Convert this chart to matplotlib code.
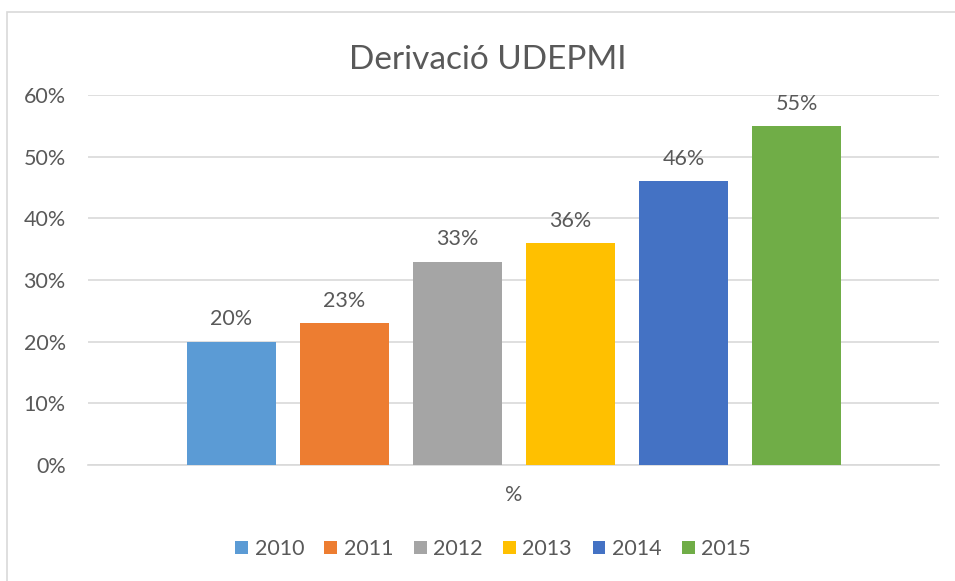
import matplotlib
matplotlib.use("Agg")
from matplotlib import pyplot as plt
from matplotlib.patches import Rectangle

# datos del grafico
anios = ["2010", "2011", "2012", "2013", "2014", "2015"]
valores = [0.20, 0.23, 0.33, 0.36, 0.46, 0.55]
colores = ["#5B9BD5", "#ED7D31", "#A5A5A5", "#FFC000", "#4472C4", "#70AD47"]
marcas_y = [0, 0.1, 0.2, 0.3, 0.4, 0.5, 0.6]

plt.rcParams['font.family'] = ['Lato', 'DejaVu Sans']
gris = "#595959"

fig = plt.figure(figsize=(9.55, 5.81), dpi=100)
ax = fig.add_axes([88/955, 1 - 465/581, (939-88)/955, (465-95)/581])

for i in range(len(anios)):
    ax.bar(i, valores[i], width=0.79, color=colores[i], label=anios[i], zorder=3)
    ax.text(i, valores[i] + 0.02, str(round(valores[i]*100)) + "%", ha="center", va="bottom",
            fontsize=15.5, color=gris)

ax.set_xlim(-1.27, 6.26)
ax.set_ylim(0, 0.6)
ax.set_yticks(marcas_y)
ax.set_yticklabels([str(round(v*100)) + "%" for v in marcas_y], fontsize=15.5, color=gris)
ax.set_xticks([])
ax.tick_params(axis="y", length=0, pad=16)
ax.grid(axis="y", color="#D9D9D9", linewidth=1.2, zorder=0)
for s in ["top", "right", "left"]:
    ax.spines[s].set_visible(False)
ax.spines["bottom"].set_color("#D9D9D9")
ax.spines["bottom"].set_linewidth(1.2)

fig.text(488/955, 1 - 60/581, "Derivació UDEPMI", ha="center", va="center", fontsize=24, color=gris)
fig.text(514/955, 1 - 495/581, "%", ha="center", va="center", fontsize=15.5, color=gris)

ax.legend(loc="center", bbox_to_anchor=(0.476, -(549-465)/370),
          ncol=6, frameon=False,
          fontsize=15.5, labelcolor=gris, handlelength=0.6, handleheight=0.6,
          handletextpad=0.3, columnspacing=0.95)

# borde del grafico
fig.patches.append(Rectangle((7/955, -0.1), 1.2, 1.1 - 12/581, transform=fig.transFigure,
                             fill=False, edgecolor="#D9D9D9", linewidth=1.2))

fig.savefig("out.png", dpi=100)
